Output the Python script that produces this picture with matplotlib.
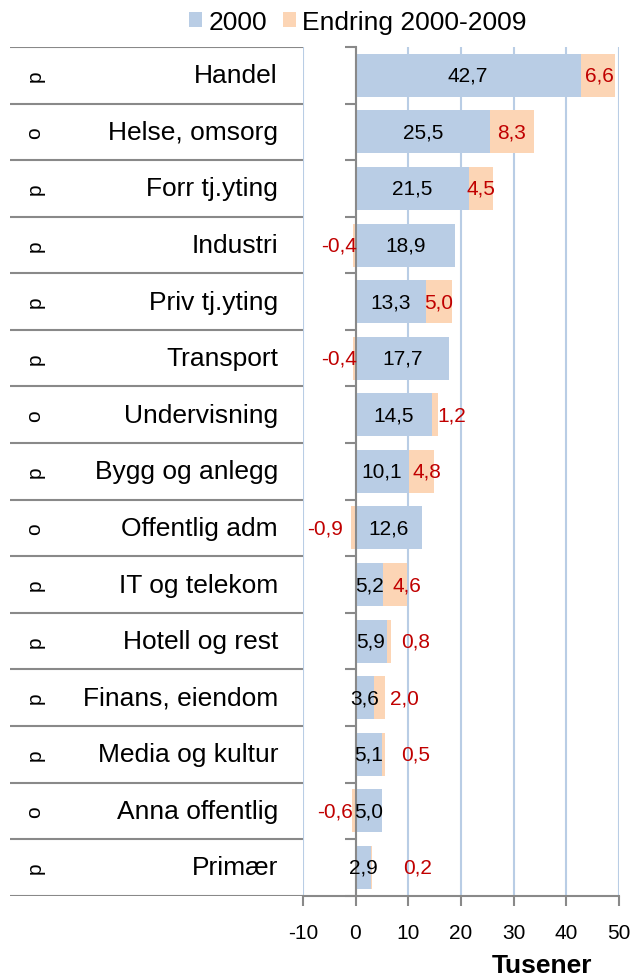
import matplotlib
matplotlib.use('Agg')
import matplotlib.pyplot as plt
from matplotlib.patches import Patch
import numpy as np

plt.rcParams['font.family'] = ['Liberation Sans', 'DejaVu Sans']

# data, top to bottom
naeringer = ['Handel', 'Helse, omsorg', 'Forr tj.yting', 'Industri', 'Priv tj.yting',
             'Transport', 'Undervisning', 'Bygg og anlegg', 'Offentlig adm',
             'IT og telekom', 'Hotell og rest', 'Finans, eiendom', 'Media og kultur',
             'Anna offentlig', 'Primær']
sektor = ['p', 'o', 'p', 'p', 'p', 'p', 'o', 'p', 'o', 'p', 'p', 'p', 'p', 'o', 'p']
aar_2000 = [42.7, 25.5, 21.5, 18.9, 13.3, 17.7, 14.5, 10.1, 12.6, 5.2, 5.9, 3.6, 5.1, 5.0, 2.9]
endring = [6.6, 8.3, 4.5, -0.4, 5.0, -0.4, 1.2, 4.8, -0.9, 4.6, 0.8, 2.0, 0.5, -0.6, 0.2]

# where the change labels were placed in the original (x in Tusener)
endring_lab_x = [46.2, 29.6, 23.8, -3.2, 15.7, -3.2, 18.3, 13.6, -5.8, 9.8, 11.5, 9.2, 11.5, -3.9, 11.7]

BLA = '#B9CDE5'
ORANSJE = '#FCD5B5'
ROD = '#C00000'
GRA = '#898989'
GRID = '#B9CDE5'

W, H = 633, 979
fig = plt.figure(figsize=(W / 100, H / 100), dpi=100)

# plot area in pixels
x0, x1 = 302.8, 619.0
ytop, ybot = 48.0, 896.7
ax = fig.add_axes([x0 / W, 1 - ybot / H, (x1 - x0) / W, (ybot - ytop) / H])
tab = fig.add_axes([10 / W, 1 - ybot / H, (x0 - 10) / W, (ybot - ytop) / H])

n = len(naeringer)
y = np.arange(n)
v0 = np.array(aar_2000)
dv = np.array(endring)

ax.barh(y, v0, height=0.76, color=BLA, zorder=2)
ax.barh(y, dv, left=np.where(dv > 0, v0, 0), height=0.76, color=ORANSJE, zorder=2)

for i in range(n):
    ax.text(v0[i] / 2, i, f'{v0[i]:.1f}'.replace('.', ','), ha='center', va='center',
            fontsize=15, color='black', zorder=4)
    ax.text(endring_lab_x[i], i, f'{dv[i]:.1f}'.replace('.', ','), ha='center', va='center',
            fontsize=15, color=ROD, zorder=4, clip_on=False)

ax.set_xlim(-10, 50)
ax.set_ylim(n - 0.5, -0.5)
ax.set_xticks(np.arange(-10, 51, 10))
ax.set_xticklabels([str(t) for t in range(-10, 51, 10)], fontsize=15)
ax.set_yticks(np.arange(-0.5, n, 1))
ax.set_yticklabels([])
ax.grid(axis='x', color=GRID, lw=1.5)
ax.set_axisbelow(True)

ax.spines['left'].set_position(('data', 0))
ax.spines['top'].set_visible(False)
ax.spines['right'].set_visible(False)
for s in ['left', 'bottom']:
    ax.spines[s].set_color(GRA)
    ax.spines[s].set_linewidth(1.5)
    ax.spines[s].set_zorder(3)
ax.tick_params(axis='x', direction='out', length=7, width=1.5, color=GRA, pad=13)
ax.tick_params(axis='y', direction='out', length=8, width=1.5, color=GRA)
ax.patch.set_alpha(0)

# category table on the left
tab.set_xlim(0, 1)
tab.set_ylim(n - 0.5, -0.5)
tab.axis('off')
for b in np.arange(-0.5, n, 1):
    tab.plot([0, 1], [b, b], color=GRA, lw=1.5, solid_capstyle='butt')
for i in range(n):
    tab.text((278 - 10) / (x0 - 10), i, naeringer[i], ha='right', va='center', fontsize=19)
    tab.text((35 - 10) / (x0 - 10), i, sektor[i], ha='center', va='center', fontsize=15,
             rotation=90)

handles = [Patch(facecolor=BLA, edgecolor='none'), Patch(facecolor=ORANSJE, edgecolor='none')]
fig.legend(handles, ['2000', 'Endring 2000-2009'], loc='center', ncol=2,
           bbox_to_anchor=(358 / W, 1 - 23 / H), frameon=False, fontsize=19,
           handlelength=0.5, handleheight=0.5, handletextpad=0.23, columnspacing=0.6,
           borderpad=0)

fig.text(542 / W, 1 - 966 / H, 'Tusener', fontsize=19, fontweight='bold',
         ha='center', va='center')

fig.savefig('out.png', dpi=100)
